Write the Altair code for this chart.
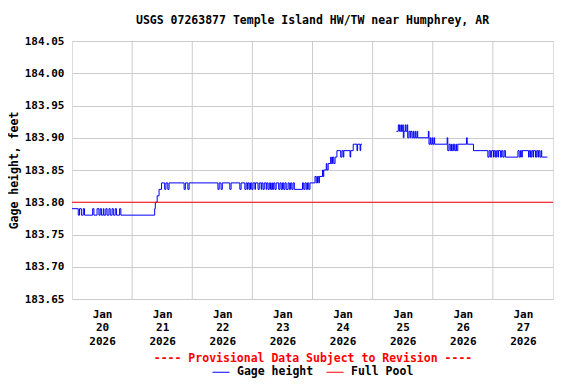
import altair as alt
import pandas as pd

FONT = "DejaVu Sans Mono"

# ---- data (15-min gage readings, step-wise) ----
times_a = [
    "2026-01-19T12:00", "2026-01-19T14:30", "2026-01-19T15:00", "2026-01-19T15:45",
    "2026-01-19T16:30", "2026-01-19T17:00", "2026-01-19T20:15", "2026-01-19T20:45",
    "2026-01-19T22:00", "2026-01-19T22:45", "2026-01-19T23:15", "2026-01-19T23:45",
    "2026-01-20T00:30", "2026-01-20T00:45", "2026-01-20T01:30", "2026-01-20T02:00",
    "2026-01-20T02:45", "2026-01-20T03:15", "2026-01-20T04:00", "2026-01-20T04:30",
    "2026-01-20T05:15", "2026-01-20T05:45", "2026-01-20T07:00", "2026-01-20T07:30",
    "2026-01-20T21:00", "2026-01-20T21:15", "2026-01-20T22:00", "2026-01-20T22:45",
    "2026-01-20T23:45", "2026-01-21T01:00", "2026-01-21T01:30", "2026-01-21T02:15",
    "2026-01-21T02:45", "2026-01-21T08:45", "2026-01-21T09:15", "2026-01-21T10:15",
    "2026-01-21T10:45", "2026-01-21T22:15", "2026-01-21T22:45", "2026-01-21T23:30",
    "2026-01-22T00:00", "2026-01-22T03:00", "2026-01-22T03:30", "2026-01-22T07:00",
    "2026-01-22T07:30", "2026-01-22T09:00", "2026-01-22T09:30", "2026-01-22T10:00",
    "2026-01-22T10:15", "2026-01-22T10:45", "2026-01-22T11:15", "2026-01-22T11:45",
    "2026-01-22T12:15", "2026-01-22T13:00", "2026-01-22T13:15", "2026-01-22T14:15",
    "2026-01-22T14:45", "2026-01-22T15:30", "2026-01-22T15:45", "2026-01-22T16:15",
    "2026-01-22T16:45", "2026-01-22T17:30", "2026-01-22T17:45", "2026-01-22T18:15",
    "2026-01-22T18:45", "2026-01-22T19:15", "2026-01-22T19:45", "2026-01-22T20:00",
    "2026-01-22T20:30", "2026-01-22T21:00", "2026-01-22T21:30", "2026-01-22T22:30",
    "2026-01-22T23:00", "2026-01-22T23:30", "2026-01-23T00:00", "2026-01-23T00:30",
    "2026-01-23T01:00", "2026-01-23T01:30", "2026-01-23T02:15", "2026-01-23T02:45",
    "2026-01-23T03:15", "2026-01-23T03:45", "2026-01-23T04:15", "2026-01-23T04:45",
    "2026-01-23T08:00", "2026-01-23T08:30", "2026-01-23T09:00", "2026-01-23T09:30",
    "2026-01-23T10:00", "2026-01-23T10:30", "2026-01-23T11:00", "2026-01-23T13:00",
    "2026-01-23T13:30", "2026-01-23T14:00", "2026-01-23T14:30", "2026-01-23T14:45",
    "2026-01-23T16:00", "2026-01-23T16:15", "2026-01-23T16:30", "2026-01-23T17:30",
    "2026-01-23T17:45", "2026-01-23T18:15", "2026-01-23T19:15", "2026-01-23T19:30",
    "2026-01-23T20:00", "2026-01-23T20:30", "2026-01-23T21:00", "2026-01-23T21:45",
    "2026-01-23T23:15", "2026-01-23T23:45", "2026-01-24T00:15", "2026-01-24T00:30",
    "2026-01-24T03:00", "2026-01-24T03:15", "2026-01-24T04:15", "2026-01-24T05:45",
    "2026-01-24T06:00", "2026-01-24T07:00", "2026-01-24T07:15", "2026-01-24T07:45",
]
heights_a = [
    183.79, 183.78, 183.79, 183.78,
    183.79, 183.78, 183.79, 183.78,
    183.79, 183.78, 183.79, 183.78,
    183.79, 183.78, 183.79, 183.78,
    183.79, 183.78, 183.79, 183.78,
    183.79, 183.78, 183.79, 183.78,
    183.79, 183.80, 183.81, 183.82,
    183.83, 183.82, 183.83, 183.82,
    183.83, 183.82, 183.83, 183.82,
    183.83, 183.82, 183.83, 183.82,
    183.83, 183.82, 183.83, 183.82,
    183.83, 183.82, 183.83, 183.82,
    183.83, 183.82, 183.83, 183.82,
    183.83, 183.82, 183.83, 183.82,
    183.83, 183.82, 183.83, 183.82,
    183.83, 183.82, 183.83, 183.82,
    183.83, 183.82, 183.83, 183.82,
    183.83, 183.82, 183.83, 183.82,
    183.83, 183.82, 183.83, 183.82,
    183.83, 183.82, 183.83, 183.82,
    183.83, 183.82, 183.83, 183.82,
    183.83, 183.82, 183.83, 183.82,
    183.83, 183.82, 183.83, 183.84,
    183.83, 183.84, 183.83, 183.84,
    183.85, 183.84, 183.85, 183.86,
    183.85, 183.86, 183.87, 183.86,
    183.87, 183.86, 183.87, 183.88,
    183.87, 183.88, 183.87, 183.88,
    183.87, 183.88, 183.89, 183.88,
    183.89, 183.88, 183.89, 183.89,
]

times_b = [
    "2026-01-24T21:30", "2026-01-24T22:15", "2026-01-24T22:45", "2026-01-24T23:15",
    "2026-01-24T23:30", "2026-01-25T00:00", "2026-01-25T00:15", "2026-01-25T00:30",
    "2026-01-25T01:00", "2026-01-25T01:15", "2026-01-25T01:45", "2026-01-25T02:00",
    "2026-01-25T02:30", "2026-01-25T03:00", "2026-01-25T03:15", "2026-01-25T03:45",
    "2026-01-25T04:15", "2026-01-25T04:30", "2026-01-25T05:00", "2026-01-25T05:15",
    "2026-01-25T05:45", "2026-01-25T06:00", "2026-01-25T10:15", "2026-01-25T10:30",
    "2026-01-25T11:00", "2026-01-25T11:15", "2026-01-25T11:45", "2026-01-25T12:00",
    "2026-01-25T12:30", "2026-01-25T12:45", "2026-01-25T17:45", "2026-01-25T18:00",
    "2026-01-25T18:30", "2026-01-25T19:00", "2026-01-25T19:30", "2026-01-25T19:45",
    "2026-01-25T20:15", "2026-01-25T20:45", "2026-01-25T21:15", "2026-01-25T21:30",
    "2026-01-25T22:00", "2026-01-26T01:30", "2026-01-26T01:45", "2026-01-26T04:15",
    "2026-01-26T10:00", "2026-01-26T10:30", "2026-01-26T11:00", "2026-01-26T11:30",
    "2026-01-26T12:15", "2026-01-26T12:30", "2026-01-26T13:00", "2026-01-26T13:30",
    "2026-01-26T14:00", "2026-01-26T14:15", "2026-01-26T15:00", "2026-01-26T15:30",
    "2026-01-26T16:00", "2026-01-26T16:30", "2026-01-26T17:00", "2026-01-26T22:00",
    "2026-01-26T22:30", "2026-01-26T23:00", "2026-01-26T23:30", "2026-01-26T23:45",
    "2026-01-27T02:15", "2026-01-27T02:30", "2026-01-27T03:00", "2026-01-27T03:30",
    "2026-01-27T04:00", "2026-01-27T04:15", "2026-01-27T05:00", "2026-01-27T05:30",
    "2026-01-27T06:00", "2026-01-27T06:15", "2026-01-27T06:45", "2026-01-27T07:15",
    "2026-01-27T07:30", "2026-01-27T09:45",
]
heights_b = [
    183.91, 183.92, 183.91, 183.92,
    183.91, 183.92, 183.90, 183.91,
    183.92, 183.91, 183.92, 183.90,
    183.91, 183.90, 183.91, 183.90,
    183.91, 183.90, 183.91, 183.90,
    183.91, 183.90, 183.91, 183.89,
    183.90, 183.89, 183.90, 183.89,
    183.90, 183.89, 183.90, 183.88,
    183.89, 183.88, 183.89, 183.88,
    183.89, 183.88, 183.89, 183.88,
    183.89, 183.90, 183.89, 183.88,
    183.87, 183.88, 183.87, 183.88,
    183.87, 183.88, 183.87, 183.88,
    183.87, 183.88, 183.87, 183.88,
    183.87, 183.88, 183.87, 183.88,
    183.87, 183.88, 183.87, 183.88,
    183.87, 183.88, 183.87, 183.88,
    183.87, 183.88, 183.87, 183.88,
    183.87, 183.88, 183.87, 183.88,
    183.87, 183.87,
]

full_pool = [183.80]
series_names = ["Gage height", "Full Pool"]
series_colors = ["#0000ff", "#ff0000"]
day_grid_times = [
    "2026-01-20T12:00", "2026-01-21T12:00", "2026-01-22T12:00", "2026-01-23T12:00",
    "2026-01-24T12:00", "2026-01-25T12:00", "2026-01-26T12:00",
]
y_ticks = [183.65, 183.70, 183.75, 183.80, 183.85, 183.90, 183.95, 184.00, 184.05]
x_label_days = [20, 21, 22, 23, 24, 25, 26, 27]

gage = pd.DataFrame({
    "time": times_a + times_b,
    "height": heights_a + heights_b,
    "seg": ["a"] * len(times_a) + ["b"] * len(times_b),
    "series": [series_names[0]] * (len(times_a) + len(times_b)),
})
pool = pd.DataFrame({"height": full_pool, "series": [series_names[1]]})
grid = pd.DataFrame({"time": day_grid_times})

x_enc = alt.X(
    "time:T",
    title="---- Provisional Data Subject to Revision ----",
    scale=alt.Scale(domain=[
        alt.DateTime(year=2026, month=1, date=19, hours=12),
        alt.DateTime(year=2026, month=1, date=27, hours=12),
    ]),
    axis=alt.Axis(
        values=[alt.DateTime(year=2026, month=1, date=d) for d in x_label_days],
        labelExpr="[timeFormat(datum.value, '%b'), timeFormat(datum.value, '%d'), timeFormat(datum.value, '%Y')]",
        grid=False, ticks=False, domain=False,
        labelFont=FONT, labelFontSize=11, labelFontWeight="bold", labelColor="black",
        labelBaseline="top", labelPadding=9, labelLineHeight=13.5, labelAngle=0,
        labelOverlap=False, labelFlush=False,
        titleFont=FONT, titleFontSize=11.5, titleFontWeight="bold", titleColor="#ff0000",
        titleBaseline="middle", titleY=59,
    ),
)
y_enc = alt.Y(
    "height:Q",
    title="Gage height, feet",
    scale=alt.Scale(domain=[183.65, 184.05], zero=False, nice=False),
    axis=alt.Axis(
        values=y_ticks, format=".2f", grid=True, gridColor="#cccccc",
        ticks=False, domain=False,
        labelFont=FONT, labelFontSize=11, labelFontWeight="bold", labelColor="black",
        labelPadding=8,
        titleFont=FONT, titleFontSize=11.5, titleFontWeight="bold", titleColor="black",
        titlePadding=5,
    ),
)
color_enc = alt.Color(
    "series:N",
    scale=alt.Scale(domain=series_names, range=series_colors),
    legend=alt.Legend(
        title=None, orient="none", direction="horizontal",
        legendX=140, legendY=322,
        symbolType="stroke", symbolSize=289, symbolStrokeWidth=1,
        labelFont=FONT, labelFontSize=11.5, labelFontWeight="bold", labelColor="black",
        labelOffset=7, columnPadding=10,
    ),
)

grid_layer = alt.Chart(grid).mark_rule(color="#cccccc", strokeWidth=1).encode(x=x_enc)
line_layer = alt.Chart(gage).mark_line(interpolate="step-after", strokeWidth=1).encode(
    x=x_enc, y=y_enc, color=color_enc, detail="seg:N"
)
pool_layer = alt.Chart(pool).mark_rule(strokeWidth=1).encode(y=y_enc, color=color_enc)

chart = alt.layer(grid_layer, line_layer, pool_layer).properties(
    width=481,
    height=258,
    title=alt.Title(
        "USGS 07263877 Temple Island HW/TW near Humphrey, AR",
        font=FONT, fontSize=11.5, fontWeight="bold", color="black",
        anchor="middle", offset=9,
    ),
    autosize=alt.AutoSizeParams(type="none"),
    padding={"left": 64, "top": 33, "right": 15, "bottom": 80},
).configure_view(stroke="black", strokeWidth=1).configure(background="white")

chart.save("out.html", embed_options={"renderer": "svg", "actions": False})
